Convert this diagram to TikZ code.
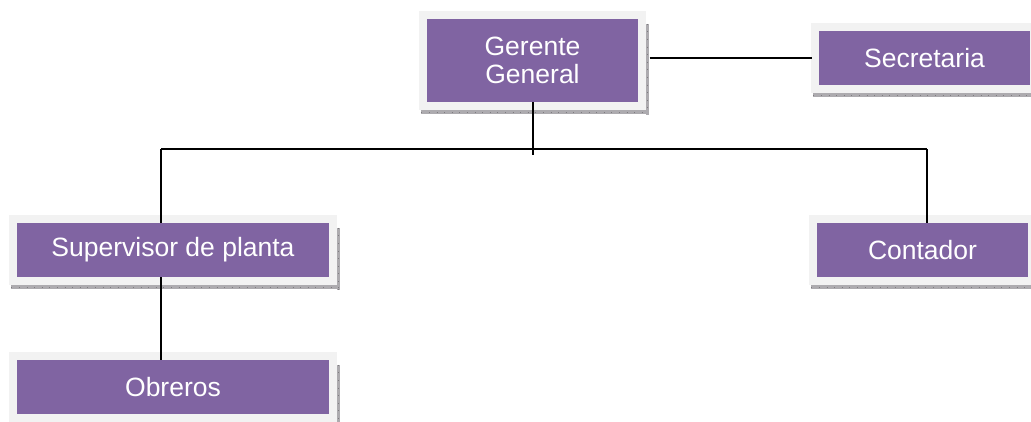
\documentclass[tikz,border=0pt]{standalone}
\usepackage{fontspec}
\setmainfont{Liberation Sans}
\usetikzlibrary{backgrounds,calc}
\definecolor{boxpurple}{HTML}{8064A2}
\definecolor{boxframe}{HTML}{F2F2F2}
\definecolor{boxshadow}{HTML}{ADABAF}
\definecolor{shadowtick}{HTML}{7E7C80}
\tikzset{
  orgbox/.style={fill=boxpurple, text=white, inner sep=0pt, align=center,
    font=\fontsize{26.5}{28}\selectfont, minimum height=54pt},
  conn/.style={draw=black, line width=1.3pt},
}
\begin{document}
\begin{tikzpicture}[x=1pt,y=-1pt]
\useasboundingbox (0,0) rectangle (1031,421);
\node[orgbox, minimum width=211pt, minimum height=83pt] (G) at (532.5,60.5) {Gerente\\General};
\node[orgbox, minimum width=211pt] (S) at (924.5,58) {Secretaria};
\node[orgbox, minimum width=312pt] (Sup) at (173,250) {Supervisor de planta};
\node[orgbox, minimum width=211pt] (Cont) at (922.5,250) {Contador};
\node[orgbox, minimum width=312pt] (Obr) at (173,387) {Obreros};
\begin{scope}[on background layer]
\foreach \n in {G,S,Sup,Cont,Obr}{
  % shadow strips
  \fill[boxshadow] ($(\n.north east)+(7.5pt,-5pt)$) rectangle ($(\n.south east)+(11pt,-12.5pt)$);
  \fill[boxshadow] ($(\n.south west)+(-5.5pt,-8pt)$) rectangle ($(\n.south east)+(11pt,-12pt)$);
  \draw[shadowtick, line width=0.4pt, dash pattern=on 0.6pt off 7pt]
    ($(\n.south west)+(-5.5pt,-10pt)$) -- ($(\n.south east)+(11pt,-10pt)$);
  \draw[shadowtick, line width=0.4pt, dash pattern=on 0.6pt off 7pt]
    ($(\n.north east)+(9.3pt,-5pt)$) -- ($(\n.south east)+(9.3pt,-12pt)$);
  % light frame
  \fill[boxframe] ($(\n.north west)+(-7.5pt,7.5pt)$) rectangle ($(\n.south east)+(7.5pt,-7.5pt)$);
}
\end{scope}
\coordinate (gbot) at (533,155);
\coordinate (hl) at (161,149);
\coordinate (hr) at (927,149);
\draw[conn] (G.south -| gbot) -- (gbot);
\draw[conn] (hl) -- (hr);
\draw[conn] (hl) -- (hl |- Sup.north);
\draw[conn] (hr) -- (hr |- Cont.north);
\draw[conn] (Sup.south -| hl) -- (Obr.north -| hl);
\draw[conn] ($(G.east |- S.west)+(11.5pt,0)$) -- ($(S.west)+(-7pt,0)$);
\end{tikzpicture}
\end{document}
